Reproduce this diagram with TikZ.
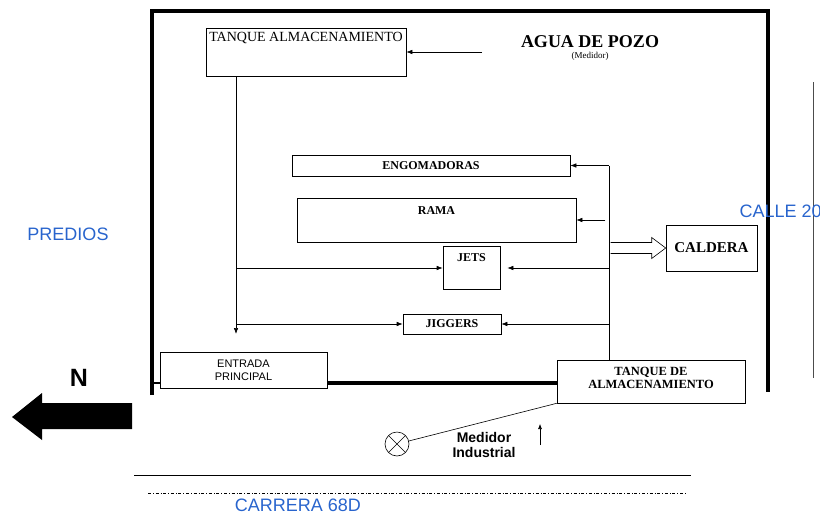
\documentclass[tikz,border=0pt]{standalone}
\usepackage{fontspec}
\setmainfont{Liberation Serif}
\setsansfont{Liberation Sans}
\usepackage{xcolor}
\usepackage{tikz}
\usetikzlibrary{arrows.meta,positioning,calc}

\definecolor{mapblue}{RGB}{40,100,205}

\begin{document}
\begin{tikzpicture}[
    x=1pt, y=-1pt,
    % boxes of the plant
    box/.style={draw, line width=0.6pt, inner sep=0pt},
    boxtext/.style={font=\bfseries\fontsize{12}{12}\selectfont, align=center},
    % pipes between boxes
    pipe/.style={line width=0.6pt},
    feed/.style={pipe, -{Latex[length=6pt,width=4.5pt]}},
    % walls of the lot
    wall/.style={line width=3.2pt},
    street/.style={font=\sffamily\fontsize{18}{18}\selectfont, text=mapblue},
  ]
  \useasboundingbox (0,0) rectangle (820,520);

  % walls and streets
  \draw[wall] (152,395) -- (152,11) -- (768,11) -- (768,392);
  \draw[line width=0.8pt, black!70] (813,82) -- (813,378);
  \draw[pipe] (134,475) -- (691,475);
  \draw[pipe, dash dot, line width=0.4pt] (148,493) -- (687,493);

  \node[street] (predios) at (68,234) {PREDIOS};
  \node[street, anchor=west] (calle) at (736,211) {CALLE 20};
  \node[street] (carrera) at (298,505) {CARRERA 68D};

  % boxes
  \node[box, minimum width=200pt, minimum height=48pt,
    label={[font=\fontsize{14}{14}\selectfont, anchor=north, yshift=-1pt]north:TANQUE ALMACENAMIENTO}]
    (tanqA) at (306,52) {};
  \node[box, minimum width=278pt, minimum height=21pt] (engom) at (431,165.5) {};
  \node[boxtext] at (engom) {ENGOMADORAS};
  \node[box, minimum width=279pt, minimum height=44pt,
    label={[boxtext, anchor=north, yshift=-5pt]north:RAMA}] (rama) at (436.5,220) {};
  \node[box, minimum width=57pt, minimum height=43pt,
    label={[boxtext, anchor=north, yshift=-4pt]north:JETS}] (jets) at (471.5,268) {};
  \node[box, minimum width=98pt, minimum height=20pt] (jiggers) at (452,324) {};
  \node[boxtext] at (jiggers) {JIGGERS};
  \node[box, minimum width=91pt, minimum height=46pt] (caldera) at (711.5,248) {};
  \node[boxtext, font=\bfseries\fontsize{15}{15}\selectfont] at (caldera) {CALDERA};
  \node[box, minimum width=167pt, minimum height=36pt] (entrada) at (243.5,370) {};
  \node[font=\sffamily\fontsize{11}{13}\selectfont, align=center] at (entrada) {ENTRADA\\PRINCIPAL};
  \node[box, minimum width=188pt, minimum height=43pt,
    label={[boxtext, font=\bfseries\fontsize{12.5}{12.5}\selectfont, anchor=north, yshift=-4pt]north:TANQUE DE\\ALMACENAMIENTO}]
    (tanqB) at (651,381.5) {};

  % wall along the front
  \coordinate (wallrow) at (0,383);
  \draw[wall] (entrada.east |- wallrow) -- (tanqB.west |- wallrow);
  \draw[line width=2pt] (152,383) -- (entrada.west |- wallrow);

  % water from the well
  \node[font=\bfseries\fontsize{18}{18}\selectfont] (pozo) at (590,42) {AGUA DE POZO};
  \node[font=\fontsize{9}{9}\selectfont, below=-3pt of pozo] (pozonote) {(Medidor)};
  \coordinate (pozoin) at (482,52);
  \draw[feed] (pozoin) -- (tanqA.east);

  % feed from the upper tank
  \coordinate (dropA) at ([xshift=-70pt]tanqA.south);
  \coordinate (dropB) at (236,334);
  \draw[feed] (dropA) -- (dropB);
  \draw[feed] (dropA |- jets.west) -- (jets.west);
  \draw[feed] (dropA |- jiggers.west) -- (jiggers.west);

  % feed from the lower tank
  \coordinate (disttop) at (609,165.5);
  \draw[pipe] (tanqB.north -| disttop) -- (disttop);
  \draw[feed] (disttop) -- (engom.east);
  \draw[feed] ([xshift=29pt]rama.east) -- (rama.east);
  \draw[feed] (jets.east -| disttop) -- ([xshift=7pt]jets.east);
  \draw[feed] (jiggers.east -| disttop) -- (jiggers.east);

  % hollow arrow into the boiler
  \draw[pipe, fill=white] ($(caldera.west)+(-55,-5.5)$) -- ($(caldera.west)+(-14,-5.5)$)
    -- ($(caldera.west)+(-14,-10.5)$) -- (caldera.west) -- ($(caldera.west)+(-14,10.5)$)
    -- ($(caldera.west)+(-14,5.5)$) -- ($(caldera.west)+(-55,5.5)$);

  % industrial meter
  \node[draw, circle, minimum size=24pt, inner sep=0pt, line width=0.6pt,
    path picture={\draw[line width=0.6pt] (path picture bounding box.north west) -- (path picture bounding box.south east)
      (path picture bounding box.north east) -- (path picture bounding box.south west);}]
    (meter) at (397,444) {};
  \draw[pipe] (meter) -- (tanqB.south west);
  \node[font=\sffamily\bfseries\fontsize{14}{15}\selectfont, align=center] (medidor) at (484,445) {Medidor\\Industrial};
  \coordinate (flowfrom) at (540,445);
  \draw[feed, -{Latex[length=5pt,width=4pt]}] (flowfrom) -- ++(0,-21);

  % north sign
  \node[font=\sffamily\bfseries\fontsize{25}{25}\selectfont] (north) at (79,378) {N};
  \fill (132,403) -- (42,403) -- (42,393) -- (12,417) -- (42,440) -- (42,429) -- (132,429) -- cycle;
\end{tikzpicture}
\end{document}
